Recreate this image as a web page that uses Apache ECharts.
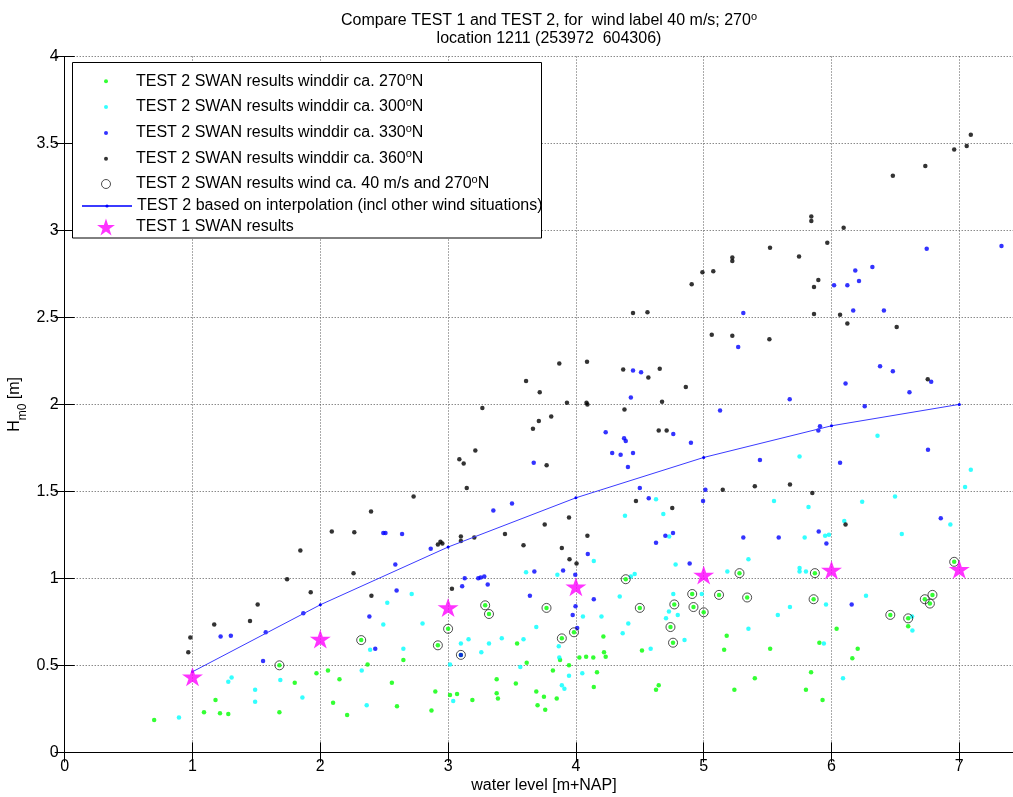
<!DOCTYPE html>
<html><head><meta charset="utf-8">
<script src="https://cdn.jsdelivr.net/npm/echarts@6/dist/echarts.min.js"></script>
<style>html,body{margin:0;padding:0;background:#fff}#c{width:1013px;height:797px}</style>
</head><body><div id="c"></div>
<script>
// ---- data ----
const xTickValues = [0, 1, 2, 3, 4, 5, 6, 7];
const yTickValues = [0, 0.5, 1, 1.5, 2, 2.5, 3, 3.5, 4];

const green270 = [
[1.68,0.50],[2.32,0.645],[2.92,0.615],[3.00,0.71],[3.10,0.56],[3.29,0.845],[3.32,0.795],[3.77,0.83],[3.89,0.655],[3.985,0.69],
[4.39,0.995],[4.50,0.83],[4.74,0.72],[4.77,0.85],[4.76,0.63],[4.91,0.91],[4.92,0.835],[5.00,0.805],[5.12,0.905],[5.28,1.03],
[5.34,0.89],[5.87,1.03],[5.86,0.88],[6.46,0.79],[6.60,0.77],[6.73,0.88],[6.79,0.905],[6.77,0.855],[6.96,1.095],
[0.70,0.185],[1.09,0.23],[1.18,0.30],[1.215,0.225],[1.28,0.22],[1.68,0.23],[1.80,0.40],[1.97,0.455],[2.06,0.47],[2.15,0.42],
[2.10,0.285],[2.21,0.215],[2.37,0.505],[2.56,0.40],[2.60,0.265],[2.65,0.53],[2.90,0.35],[2.87,0.24],[3.015,0.33],[3.07,0.335],
[3.19,0.30],[3.38,0.42],[3.38,0.34],[3.39,0.31],[3.53,0.395],[3.54,0.625],[3.615,0.515],[3.69,0.35],[3.70,0.27],[3.75,0.32],
[3.76,0.245],[3.82,0.47],[3.85,0.31],[3.876,0.53],[3.946,0.50],[4.027,0.545],[4.08,0.55],[4.136,0.545],[4.165,0.46],[4.14,0.375],
[4.215,0.665],[4.22,0.575],[4.233,0.55],[4.517,0.585],[4.627,0.36],[4.648,0.385],[5.18,0.67],[5.16,0.59],[5.52,0.595],[5.40,0.425],
[5.24,0.36],[5.905,0.63],[6.04,0.71],[5.84,0.46],[5.80,0.36],[5.93,0.30],[6.205,0.595],[6.163,0.54],[6.60,0.725]
];
const cyan300 = [
[0.894,0.20],[1.28,0.405],[1.306,0.43],[1.49,0.36],[1.49,0.29],[1.687,0.415],[1.86,0.315],[2.324,0.47],[2.363,0.27],[2.39,0.59],
[2.493,0.735],[2.524,0.86],[2.65,0.595],[2.715,0.91],[2.80,0.74],[3.015,0.505],[3.04,0.295],[3.10,0.625],[3.16,0.65],[3.26,0.575],
[3.32,0.625],[3.42,0.655],[3.565,0.49],[3.59,0.65],[3.61,1.035],[3.69,0.72],[3.855,1.02],[3.866,0.61],[3.87,0.545],[3.89,0.385],
[3.91,0.365],[3.946,0.44],[4.05,0.455],[4.055,0.78],[4.20,0.78],[4.343,0.895],[4.366,0.685],[4.41,0.74],[4.43,1.01],[4.46,1.025],
[4.585,0.595],[4.705,0.77],[4.728,0.81],[4.762,0.91],[4.797,0.79],[4.85,0.645],[4.985,0.91],[5.185,1.04],[5.75,1.04],[5.80,1.04],
[6.27,0.90],[5.957,0.85],[5.675,0.835],[5.58,0.79],[5.35,0.71],[5.94,0.625],[6.09,0.425],[6.63,0.78],[6.633,0.70],[5.75,1.70],
[6.36,1.82],[7.09,1.625],[7.045,1.525],[5.55,1.445],[5.82,1.41],[6.24,1.44],[6.497,1.47],[6.10,1.33],[6.93,1.31],[6.55,1.255],
[5.79,1.235],[5.95,1.245],[5.98,1.25],[5.35,1.11],[5.75,1.06],[4.627,1.455],[4.384,1.36],[4.684,1.37],[4.73,1.24],[4.14,1.10],
[4.78,1.08]
];
const blue330 = [
[1.22,0.665],[1.30,0.67],[1.552,0.525],[1.573,0.69],[1.867,0.80],[2.384,0.78],[2.43,0.595],[2.597,0.93],[2.493,1.26],[2.51,1.26],
[2.64,1.255],[2.587,1.08],[2.864,1.17],[3.354,1.39],[3.50,1.43],[3.67,1.665],[4.233,1.84],[4.284,1.72],[4.35,1.71],[4.377,1.805],
[4.39,1.79],[4.447,1.72],[4.407,1.64],[4.50,1.52],[4.57,1.46],[4.762,1.83],[4.90,1.78],[5.128,1.965],[5.013,1.51],[4.995,1.445],
[4.627,1.205],[4.70,1.245],[4.76,1.26],[4.89,1.085],[4.093,1.14],[3.675,1.04],[3.90,1.045],[3.995,1.02],[3.13,1.0],[3.236,1.0],
[3.255,1.005],[3.283,1.01],[3.11,0.955],[3.31,0.965],[3.64,0.90],[4.14,0.88],[3.997,0.84],[3.975,0.79],[4.01,0.715],[3.10,0.56],
[6.26,1.99],[5.91,1.875],[5.897,1.85],[5.44,1.68],[6.067,1.665],[6.755,1.74],[6.855,1.345],[5.31,1.235],[5.587,1.235],[5.90,1.27],
[5.96,1.20],[6.158,0.85],[6.745,2.895],[7.33,2.91],[6.32,2.79],[6.186,2.77],[6.215,2.71],[6.02,2.685],[6.124,2.685],[6.17,2.54],
[6.41,2.54],[6.38,2.22],[6.48,2.19],[6.78,2.13],[6.11,2.12],[6.61,2.07],[5.673,2.03],[5.31,2.525],[5.27,2.33],[4.447,2.195],
[4.51,2.185],[4.43,2.04]
];
const black360 = [
[3.61,2.135],[3.717,2.07],[3.87,2.235],[3.807,1.93],[3.93,2.01],[4.087,2.245],[4.083,2.01],[4.09,2.0],[4.37,2.20],[4.38,1.97],
[4.567,2.155],[4.656,2.205],[4.674,2.015],[4.86,2.10],[4.447,2.525],[4.56,2.53],[4.906,2.69],[4.99,2.76],[5.075,2.765],[5.224,2.845],
[5.224,2.825],[5.063,2.40],[5.224,2.395],[7.09,3.55],[7.058,3.485],[6.96,3.465],[6.734,3.37],[6.48,3.315],[5.842,3.08],[5.842,3.055],
[6.095,3.015],[5.519,2.90],[5.967,2.93],[5.746,2.85],[5.897,2.715],[5.863,2.675],[5.863,2.52],[6.067,2.515],[6.124,2.465],[6.51,2.445],
[5.514,2.375],[6.753,2.145],[3.268,1.98],[3.664,1.86],[3.71,1.905],[3.088,1.685],[3.122,1.66],[3.213,1.735],[3.771,1.65],[3.146,1.52],
[4.648,1.85],[4.71,1.85],[4.47,1.445],[4.754,1.405],[3.946,1.35],[3.756,1.31],[3.445,1.255],[4.09,1.245],[3.10,1.24],[3.10,1.215],
[3.205,1.235],[3.59,1.19],[3.89,1.175],[3.95,1.11],[4.005,1.085],[2.92,1.195],[2.94,1.21],[2.955,1.20],[3.03,0.94],[2.73,1.47],
[2.397,1.385],[2.09,1.27],[2.266,1.265],[1.844,1.16],[1.74,0.995],[2.26,1.03],[1.925,0.92],[2.40,0.90],[1.51,0.85],[1.17,0.735],
[1.45,0.755],[0.983,0.66],[0.967,0.575],[5.149,1.51],[5.40,1.53],[5.675,1.54],[5.85,1.49],[6.11,1.31]
];
const wind40 = [
[1.68,0.50],[2.32,0.645],[2.92,0.615],[3.00,0.71],[3.10,0.56],[3.29,0.845],[3.32,0.795],[3.77,0.83],[3.89,0.655],[3.985,0.69],
[4.39,0.995],[4.50,0.83],[4.74,0.72],[4.77,0.85],[4.76,0.63],[4.91,0.91],[4.92,0.835],[5.00,0.805],[5.12,0.905],[5.28,1.03],
[5.34,0.89],[5.87,1.03],[5.86,0.88],[6.46,0.79],[6.60,0.77],[6.73,0.88],[6.79,0.905],[6.77,0.855],[6.96,1.095]
];
const interpX = [1, 2, 3, 4, 5, 6, 7];
const interpY = [0.463, 0.848, 1.18, 1.463, 1.695, 1.877, 2.0];
const test1X = [1, 2, 3, 4, 5, 6, 7];
const test1Y = [0.434, 0.651, 0.833, 0.952, 1.019, 1.048, 1.053];

const names = [
  'TEST 2 SWAN results winddir ca. 270°N',
  'TEST 2 SWAN results winddir ca. 300°N',
  'TEST 2 SWAN results winddir ca. 330°N',
  'TEST 2 SWAN results winddir ca. 360°N',
  'TEST 2 SWAN results wind ca. 40 m/s and 270°N',
  'TEST 2 based on interpolation (incl other wind situations)',
  'TEST 1 SWAN results'
];

// ---- styling ----
const FONT = 'Liberation Sans, Arial, Helvetica, sans-serif';
function starPath() {
  let d = '';
  for (let k = 0; k < 10; k++) {
    const r = (k % 2) ? 0.382 : 1;
    const a = (-90 + 36 * k) * Math.PI / 180;
    const x = (50 + 50 * r * Math.cos(a)).toFixed(2);
    const y = (50 + 50 * r * Math.sin(a)).toFixed(2);
    d += (k === 0 ? 'M' : 'L') + x + ',' + y;
  }
  return 'path://' + d + 'Z';
}
const STAR = starPath();

function fmtName(n) {
  const parts = n.split('°');
  if (parts.length === 1) return '{a|' + n + '}';
  return '{a|' + parts[0] + '}{s|o}{a|' + parts[1] + '}';
}
const richLeg = {
  a: { fontSize: 16, fontFamily: FONT, color: '#000', lineHeight: 20 },
  s: { fontSize: 11, fontFamily: FONT, color: '#000', lineHeight: 12, verticalAlign: 'top' }
};
const legCenters = [81.3, 107, 133, 158.7, 184, 208, 228.5];
const legH = [4, 4, 4, 4, 9, 4, 17];
const legIconW = [4, 4, 4, 4, 10, 50, 17.9];
const legIcons = ['circle', 'circle', 'circle', 'circle', 'circle', null, STAR];
const legends = names.map((n, i) => {
  const item = { name: n };
  if (legIcons[i]) item.icon = legIcons[i];
  if (i === 4) item.itemStyle = { color: 'transparent', borderColor: '#222', borderWidth: 1 };
  return {
    data: [item], orient: 'vertical', left: 106 - legIconW[i] / 2, top: legCenters[i] - 10,
    itemWidth: 50, itemHeight: legH[i], itemGap: 0, padding: 0, z: 10,
    selectedMode: false, formatter: fmtName,
    textStyle: { fontSize: 16, fontFamily: FONT, color: '#000', rich: richLeg }
  };
});

const gridLine = { show: true, lineStyle: { type: [1, 2], color: '#555', width: 1 } };
const axisLineStyle = { show: true, lineStyle: { color: '#000', width: 1 } };

const chart = echarts.init(document.getElementById('c'), null, { renderer: 'canvas' });
chart.setOption({
  animation: false,
  backgroundColor: '#fff',
  title: {
    text: '{a|Compare TEST 1 and TEST 2, for  wind label 40 m/s; 270}{s|o}',
    subtext: 'location 1211 (253972  604306)',
    left: 544, textAlign: 'center', top: 6, itemGap: 1,
    textStyle: { fontSize: 16, fontWeight: 'normal', fontFamily: FONT, color: '#000',
      rich: { a: { fontSize: 16, fontFamily: FONT, color: '#000', lineHeight: 19 },
              s: { fontSize: 11, fontFamily: FONT, color: '#000', lineHeight: 11, verticalAlign: 'top' } } },
    subtextStyle: { fontSize: 16, fontFamily: FONT, color: '#000', lineHeight: 19 }
  },
  legend: legends,
  graphic: [{
    type: 'rect', z: 5, shape: { x: 72.5, y: 62.5, width: 469, height: 175.5 },
    style: { fill: '#fff', stroke: '#000', lineWidth: 1 }
  }],
  grid: { left: 64.7, top: 56.5, width: 958.5, height: 695.8, show: false, outerBoundsMode: 'none', containLabel: false },
  xAxis: [{
    type: 'value', min: 0, max: 7.5, interval: 1, position: 'bottom',
    name: 'water level [m+NAP]', nameLocation: 'middle', nameGap: 25, nameMoveOverlap: false,
    nameTextStyle: { fontSize: 16, fontFamily: FONT, color: '#000' },
    axisLine: axisLineStyle, axisTick: { show: true, inside: true, length: 10, lineStyle: { color: '#000' } },
    axisLabel: { fontSize: 16, fontFamily: FONT, color: '#000', margin: 6, showMaxLabel: false,
      formatter: v => xTickValues.indexOf(v) >= 0 ? String(v) : '' },
    splitLine: gridLine
  }, {
    type: 'value', min: 0, max: 7.5, interval: 1, position: 'top',
    axisLine: axisLineStyle, axisTick: { show: true, inside: true, length: 10, lineStyle: { color: '#000' } },
    axisLabel: { show: false }, splitLine: { show: false }
  }],
  yAxis: [{
    type: 'value', min: 0, max: 4, interval: 0.5, position: 'left',
    name: '{a|H}{b|m0}{a| [m]}', nameLocation: 'middle', nameGap: 36, nameMoveOverlap: false,
    nameTextStyle: { fontSize: 16, fontFamily: FONT, color: '#000',
      rich: { a: { fontSize: 16, fontFamily: FONT, color: '#000', lineHeight: 22, verticalAlign: 'top' },
              b: { fontSize: 12, fontFamily: FONT, color: '#000', lineHeight: 22, verticalAlign: 'bottom' } } },
    axisLine: axisLineStyle, axisTick: { show: true, inside: true, length: 10, lineStyle: { color: '#000' } },
    axisLabel: { fontSize: 16, fontFamily: FONT, color: '#000', margin: 6,
      formatter: v => yTickValues.indexOf(v) >= 0 ? String(v) : '' },
    splitLine: gridLine
  }, {
    type: 'value', min: 0, max: 4, interval: 0.5, position: 'right',
    axisLine: axisLineStyle, axisTick: { show: true, inside: true, length: 10, lineStyle: { color: '#000' } },
    axisLabel: { show: false }, splitLine: { show: false }
  }],
  series: [
    { name: names[0], type: 'scatter', data: green270, symbol: 'circle', symbolSize: 4.5, itemStyle: { color: '#00ff00' }, z: 2 },
    { name: names[1], type: 'scatter', data: cyan300, symbol: 'circle', symbolSize: 4.5, itemStyle: { color: '#00ffff' }, z: 2 },
    { name: names[2], type: 'scatter', data: blue330, symbol: 'circle', symbolSize: 4.5, itemStyle: { color: '#0000ff' }, z: 2 },
    { name: names[3], type: 'scatter', data: black360, symbol: 'circle', symbolSize: 4.5, itemStyle: { color: '#000000' }, z: 2 },
    { name: names[4], type: 'scatter', data: wind40, symbol: 'circle', symbolSize: 9,
      itemStyle: { color: 'transparent', borderColor: '#222', borderWidth: 1 }, z: 3 },
    { name: names[5], type: 'line', data: interpX.map((x, i) => [x, interpY[i]]), symbol: 'circle', symbolSize: 3,
      showSymbol: true, lineStyle: { color: '#3b3bff', width: 1 }, itemStyle: { color: '#0000ff' }, z: 3 },
    { name: names[6], type: 'scatter', data: test1X.map((x, i) => [x, test1Y[i]]), symbol: STAR, symbolSize: [21, 20],
      symbolKeepAspect: true, itemStyle: { color: '#ff00ff' }, z: 4 }
  ]
});
</script>
</body></html>
